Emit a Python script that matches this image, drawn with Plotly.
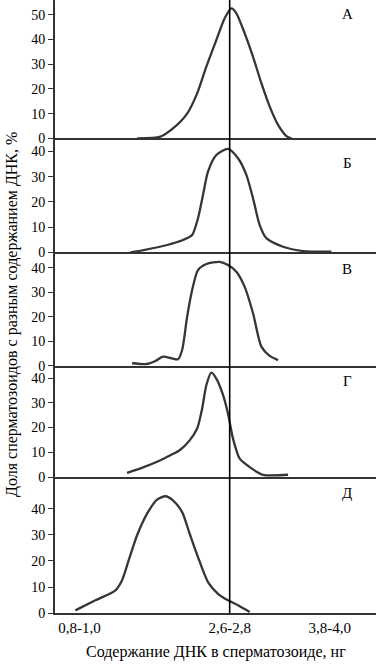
import plotly.graph_objects as go

# ---- data (DNA content per spermatozoon, ng; share of spermatozoa, %) ----
panel_labels = ["А", "Б", "В", "Г", "Д"]

dna_a = [1.59, 1.87, 2.02, 2.19, 2.31, 2.42, 2.54, 2.64, 2.72, 2.78, 2.88, 2.98, 3.08, 3.18, 3.28, 3.38, 3.44]
share_a = [0, 0.7, 4, 10, 18.2, 29, 39.8, 48.6, 52.6, 50.6, 42.5, 33, 22.3, 12.8, 5.4, 0.9, 0]

dna_b = [1.51, 1.67, 1.95, 2.14, 2.25, 2.32, 2.38, 2.44, 2.54, 2.68, 2.80, 2.90, 2.98, 3.06, 3.14, 3.34, 3.58, 3.92]
share_b = [0, 0.9, 2.9, 4.9, 6.9, 13.5, 22.7, 32, 38.6, 41, 37.3, 30.7, 21.4, 10.8, 5.6, 2.2, 0.5, 0.25]

dna_v = [1.53, 1.71, 1.81, 1.90, 2.01, 2.08, 2.13, 2.19, 2.25, 2.32, 2.42, 2.58, 2.68, 2.78, 2.88, 2.98, 3.08, 3.18, 3.28]
share_v = [1.0, 0.7, 1.9, 3.7, 3.0, 2.6, 6.4, 20, 30.9, 39, 41.5, 42.4, 41.1, 38.4, 32.2, 21.4, 7.8, 4.0, 2.3]

dna_g = [1.47, 1.67, 1.87, 1.99, 2.10, 2.22, 2.31, 2.37, 2.42, 2.48, 2.54, 2.62, 2.68, 2.74, 2.82, 2.94, 3.10, 3.40]
share_g = [1.7, 4.0, 6.8, 8.8, 10.8, 14.8, 19.6, 27.7, 37.1, 42.2, 39.8, 33.2, 25.6, 15.5, 7.4, 4.0, 0.9, 0.9]

dna_d = [0.85, 1.09, 1.33, 1.41, 1.49, 1.59, 1.71, 1.83, 1.93, 2.02, 2.13, 2.22, 2.32, 2.44, 2.56, 2.68, 2.80, 2.94]
share_d = [1.0, 4.9, 8.7, 12.6, 20.3, 29.9, 38.2, 43.6, 44.9, 43.3, 38.8, 30.5, 21.5, 11.9, 7.4, 4.9, 3.0, 0.4]

tick_pos = [0.9, 2.7, 3.9]
tick_text = ["0,8-1,0", "2,6-2,8", "3,8-4,0"]
reference_dna = 2.7

y_ticks = [[0, 10, 20, 30, 40, 50], [0, 10, 20, 30, 40], [0, 10, 20, 30, 40],
           [0, 10, 20, 30, 40], [0, 10, 20, 30, 40]]
y_tops = [56, 45.2, 46.3, 45, 52.3]

x_title = "Содержание ДНК в сперматозоиде, нг"
y_title = "Доля сперматозоидов с разным содержанием ДНК, %"

# ---- layout ----
FONT = "Liberation Serif"
W, H = 376, 668
ML, MR, MT, MB = 55, 0, 0, 55
plot_h = H - MT - MB
# panel bottoms (zero lines) in pixels from top
zero_px = [138.3, 252.3, 365.7, 477.0, 613.0]
top_px = [0.0] + zero_px[:-1]
label_px = [14, 163, 269, 381, 493]

xs = [dna_a, dna_b, dna_v, dna_g, dna_d]
ys = [share_a, share_b, share_v, share_g, share_d]

fig = go.Figure()
layout = dict(
    width=W, height=H,
    margin=dict(l=ML, r=MR, t=MT, b=MB, autoexpand=False),
    paper_bgcolor="white", plot_bgcolor="white",
    showlegend=False,
    font=dict(family=FONT, size=15, color="black"),
)
xr = [0.606, 4.454]
for i in range(5):
    n = i + 1
    sfx = "" if n == 1 else str(n)
    fig.add_trace(go.Scatter(
        x=xs[i], y=ys[i], mode="lines",
        line=dict(color="#363636", width=2.3, shape="spline", smoothing=0.7),
        xaxis="x" + sfx, yaxis="y" + sfx, hoverinfo="skip",
    ))
    d0 = (plot_h - zero_px[i]) / plot_h
    d1 = (plot_h - top_px[i]) / plot_h
    layout["xaxis" + sfx] = dict(
        anchor="y" + sfx, domain=[0, 1], range=xr,
        showline=True, linecolor="#333", linewidth=1.7,
        showgrid=False, zeroline=False, ticks="",
        tickvals=tick_pos, ticktext=tick_text,
        showticklabels=(n == 5),
        tickfont=dict(family=FONT, size=15, color="black"),
        **({} if n == 1 else {"matches": "x"}),
    )
    layout["yaxis" + sfx] = dict(
        anchor="x" + sfx, domain=[max(d0, 0), min(d1, 1)],
        range=[0, y_tops[i]], tickvals=y_ticks[i],
        showline=True, linecolor="#333", linewidth=1.7,
        ticks="outside", ticklen=5, tickwidth=1.2, tickcolor="#333",
        showgrid=False, zeroline=False,
        tickfont=dict(family=FONT, size=14, color="black"),
    )

fig.update_layout(**layout)

fig.add_shape(type="line", xref="x", yref="paper",
              x0=reference_dna, x1=reference_dna, y0=0, y1=1,
              line=dict(color="black", width=1.6))

for lab, py in zip(panel_labels, label_px):
    fig.add_annotation(text=lab, xref="paper", yref="paper",
                       x=(347 - ML) / (W - ML - MR), y=(plot_h - py) / plot_h,
                       showarrow=False, xanchor="center", yanchor="middle",
                       font=dict(family=FONT, size=15, color="black"))

fig.add_annotation(text=x_title, xref="paper", yref="paper",
                   x=(216 - ML) / (W - ML - MR), y=(plot_h - 651.7) / plot_h,
                   showarrow=False, xanchor="center", yanchor="middle",
                   font=dict(family=FONT, size=16, color="black"))
fig.add_annotation(text=y_title, xref="paper", yref="paper",
                   x=(12 - ML) / (W - ML - MR), y=(plot_h - 315) / plot_h,
                   showarrow=False, xanchor="center", yanchor="middle",
                   textangle=-90,
                   font=dict(family=FONT, size=16, color="black"))

fig.write_html("out.html", config={"displayModeBar": False},
               post_script="document.body.style.margin='0';document.body.style.padding='0';")
